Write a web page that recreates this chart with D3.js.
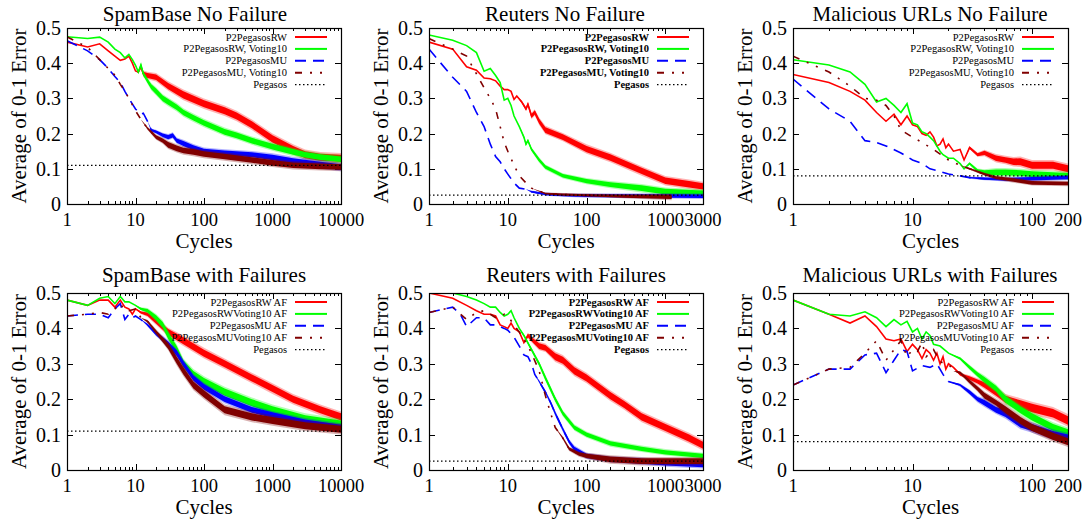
<!DOCTYPE html>
<html>
<head>
<meta charset="utf-8">
<script src="https://cdn.jsdelivr.net/npm/d3@7/dist/d3.min.js"></script>
<style>
    body { margin: 0; background: #fff; }
    svg { display: block; }
    svg text { font-family: "Liberation Serif", "Times New Roman", serif; }
</style>
</head>
<body>
<svg width="1085" height="525"></svg>
<script>
// каждая точка: [цикл, ошибка, полуширина шумовой полосы]
const spamRW = [[1,.46,0],[2,.446,0],[3,.455,0],[4,.435,0],[5,.42,0],[6,.408,0],[7,.412,0],[8,.42,0],[9,.4,0],[10,.378,0],[11,.375,.003],[12,.39,.005],[13,.37,.006],[15,.365,.007],[20,.36,.008],[30,.335,.009],[50,.31,.01],[100,.285,.01],[200,.265,.01],[300,.25,.01],[500,.225,.01],[1000,.185,.01],[2000,.155,.01],[3000,.14,.01],[5000,.133,.01],[10000,.13,.01]];
const spamRWV = [[1,.475,0],[2,.47,0],[3,.474,0],[4,.46,0],[5,.44,0],[6,.43,0],[7,.415,0],[8,.425,0],[9,.41,0],[10,.394,0],[11,.375,.003],[12,.395,.004],[13,.37,.005],[15,.35,.006],[17,.333,.007],[20,.32,.008],[25,.3,.008],[30,.29,.008],[40,.275,.008],[50,.26,.008],[70,.245,.008],[100,.23,.008],[200,.205,.008],[300,.195,.008],[500,.18,.008],[1000,.163,.008],[2000,.148,.008],[3000,.14,.008],[5000,.133,.008],[10000,.127,.008]];
const spamMU = [[1,.464,0],[2,.435,0],[3,.41,0],[4,.385,0],[5,.362,0],[6,.345,0],[7,.32,0],[8,.3,0],[10,.27,0],[12,.255,0],[13,.258,0],[15,.235,0],[17,.21,.003],[20,.205,.004],[25,.195,.005],[30,.19,.006],[35,.195,.006],[40,.18,.006],[50,.172,.007],[70,.16,.007],[100,.15,.007],[200,.145,.007],[500,.14,.007],[1000,.132,.008],[2000,.122,.008],[5000,.112,.008],[10000,.105,.008]];
const spamMUV = [[1,.475,0],[2,.445,0],[3,.41,0],[4,.385,0],[5,.366,0],[6,.34,0],[7,.32,0],[8,.3,0],[10,.265,0],[12,.24,0],[15,.215,.003],[20,.19,.005],[25,.18,.006],[30,.168,.008],[40,.158,.008],[50,.152,.008],[70,.148,.008],[100,.142,.008],[200,.135,.008],[500,.125,.008],[1000,.117,.008],[2000,.11,.008],[5000,.107,.008],[10000,.105,.008]];

const reutRW = [[1,.46,0],[2,.44,0],[3,.39,0],[4,.38,0],[5,.358,0],[6,.356,0],[7,.35,0],[8,.335,0],[9,.325,0],[10,.325,0],[11,.32,0],[12,.297,0],[13,.307,0],[15,.29,.003],[17,.27,.004],[18,.283,.005],[20,.25,.006],[22,.26,.006],[25,.235,.007],[30,.21,.008],[50,.19,.008],[100,.156,.009],[200,.132,.009],[500,.094,.009],[1000,.066,.009],[2000,.056,.009],[3000,.05,.009]];
const reutRWV = [[1,.48,0],[2,.465,0],[3,.45,0],[4,.43,0],[5,.377,0],[6,.385,0],[7,.365,0],[8,.345,0],[9,.295,0],[10,.3,0],[11,.28,0],[12,.25,0],[14,.22,0],[16,.19,.003],[17,.17,.003],[18,.18,.003],[20,.155,.004],[25,.125,.005],[30,.105,.005],[50,.08,.005],[100,.065,.006],[200,.055,.007],[500,.045,.008],[1000,.035,.008],[3000,.03,.008]];
const reutMU = [[1,.44,0],[2,.36,0],[3,.32,0],[4,.26,0],[5,.22,0],[6,.17,0],[7,.135,0],[8,.12,0],[9,.1,0],[10,.085,0],[12,.06,0],[14,.045,0],[17,.042,0],[20,.035,.002],[30,.028,.003],[50,.025,.003],[100,.024,.004],[1000,.023,.005],[3000,.022,.005]];
const reutMUV = [[1,.47,0],[2,.44,0],[3,.42,0],[4,.37,0],[5,.33,0],[6,.3,0],[7,.27,0],[8,.22,0],[9,.175,0],[10,.15,0],[12,.11,0],[14,.08,0],[17,.06,0],[20,.045,0],[30,.03,.002],[50,.027,.003],[100,.025,.003],[300,.022,.004],[1200,.02,.006]];

const urlRW = [[1,.368,0],[2,.345,0],[3,.32,0],[4,.295,0],[5,.26,0],[6,.235,0],[7,.255,0],[8,.225,0],[9,.25,0],[10,.225,0],[11,.22,0],[12,.2,0],[13,.195,0],[14,.205,0],[15,.19,0],[16,.165,0],[17,.17,0],[18,.185,0],[19,.16,0],[20,.17,0],[22,.15,0],[25,.155,0],[27,.125,0],[30,.16,.003],[35,.14,.004],[40,.145,.006],[50,.13,.008],[60,.125,.008],[70,.12,.009],[80,.12,.01],[100,.11,.01],[150,.11,.01],[200,.1,.01]];
const urlRWV = [[1,.41,0],[2,.395,0],[3,.375,0],[4,.34,0],[5,.29,0],[6,.3,0],[7,.28,0],[8,.26,0],[9,.285,0],[10,.23,0],[11,.225,0],[12,.205,0],[13,.2,0],[14,.19,0],[15,.18,0],[17,.15,0],[18,.14,0],[20,.13,0],[22,.13,0],[25,.115,0],[27,.1,0],[30,.115,.003],[35,.095,.004],[40,.09,.006],[50,.09,.008],[60,.09,.008],[80,.088,.008],[100,.085,.008],[200,.08,.008]];
const urlMU = [[1,.355,0],[2,.27,0],[3,.235,0],[4,.18,0],[5,.175,0],[6,.165,0],[8,.145,0],[10,.125,0],[12,.115,0],[14,.1,0],[16,.095,0],[20,.085,0],[25,.08,0],[30,.075,.002],[40,.072,.003],[60,.07,.004],[100,.072,.005],[200,.075,.005]];
const urlMUV = [[1,.42,0],[2,.375,0],[3,.335,0],[4,.3,0],[5,.295,0],[6,.28,0],[7,.25,0],[8,.21,0],[10,.19,0],[12,.175,0],[15,.155,0],[20,.125,0],[25,.11,0],[30,.1,.002],[40,.085,.003],[50,.075,.004],[70,.068,.005],[100,.06,.005],[200,.058,.005]];

const spamRWaf = [[1,.48,0],[2,.465,0],[3,.48,0],[4,.48,0],[5,.46,0],[6,.48,0],[7,.46,0],[8,.455,0],[9,.44,0],[10,.455,0],[12,.445,.003],[15,.44,.005],[20,.42,.007],[30,.39,.008],[50,.365,.01],[100,.33,.01],[200,.3,.01],[500,.26,.01],[1000,.23,.01],[2000,.2,.01],[5000,.17,.01],[10000,.15,.01]];
const spamRWVaf = [[1,.48,0],[2,.465,0],[3,.485,0],[4,.49,0],[5,.47,0],[6,.49,0],[7,.475,0],[8,.475,0],[10,.465,0],[12,.455,.003],[15,.45,.005],[20,.43,.007],[25,.41,.008],[30,.38,.01],[40,.34,.01],[50,.3,.01],[70,.27,.01],[100,.25,.01],[200,.22,.01],[500,.19,.01],[1000,.17,.01],[3000,.145,.01],[10000,.13,.01]];
const spamMUaf = [[1,.435,0],[2,.44,0],[3,.44,0],[4,.43,0],[5,.455,0],[6,.47,0],[7,.425,0],[8,.44,0],[9,.43,0],[10,.435,0],[12,.425,0],[15,.41,.003],[20,.385,.005],[25,.37,.006],[30,.355,.008],[40,.33,.008],[50,.3,.008],[70,.26,.008],[100,.235,.008],[200,.2,.008],[500,.17,.008],[1000,.155,.008],[3000,.135,.008],[10000,.12,.008]];
const spamMUVaf = [[1,.435,0],[2,.44,0],[3,.445,0],[4,.44,0],[5,.455,0],[6,.47,0],[7,.45,0],[8,.45,0],[10,.455,0],[12,.43,0],[15,.42,.003],[20,.39,.005],[30,.35,.008],[40,.31,.01],[50,.28,.01],[70,.24,.01],[100,.215,.01],[200,.17,.01],[500,.15,.01],[1000,.14,.01],[3000,.125,.01],[10000,.115,.01]];

const reutRWaf = [[1,.5,0],[2,.485,0],[3,.465,0],[4,.45,0],[5,.44,0],[6,.44,0],[7,.435,0],[8,.41,0],[9,.405,0],[10,.4,0],[11,.415,0],[12,.4,0],[14,.39,0],[16,.36,.003],[18,.38,.005],[20,.37,.006],[25,.35,.008],[30,.345,.008],[40,.32,.01],[50,.31,.01],[70,.28,.01],[100,.26,.01],[200,.21,.01],[300,.185,.01],[500,.15,.01],[1000,.12,.01],[2000,.09,.01],[3000,.07,.01]];
const reutRWVaf = [[1,.5,0],[2,.5,0],[3,.49,0],[4,.48,0],[5,.47,0],[6,.46,0],[7,.46,0],[8,.445,0],[9,.435,0],[10,.44,0],[11,.45,0],[12,.43,0],[14,.4,0],[16,.38,.003],[20,.34,.004],[25,.3,.005],[30,.26,.006],[40,.2,.006],[50,.16,.006],[70,.12,.006],[100,.1,.006],[200,.075,.006],[500,.06,.006],[1000,.05,.006],[3000,.04,.006]];
const reutMUaf = [[1,.445,0],[2,.46,0],[2.5,.44,0],[3,.405,0],[4,.43,0],[5,.43,0],[6,.41,0],[7,.41,0],[8,.405,0],[9,.4,0],[10,.395,0],[12,.375,0],[14,.35,0],[16,.325,0],[18,.32,0],[20,.3,0],[22,.27,0],[25,.25,.003],[30,.22,.004],[35,.19,.004],[40,.16,.005],[50,.115,.005],[60,.08,.005],[70,.06,.006],[100,.04,.006],[200,.03,.006],[500,.025,.007],[1000,.02,.007],[3000,.015,.007]];
const reutMUVaf = [[1,.445,0],[2,.46,0],[3,.425,0],[4,.445,0],[5,.45,0],[6,.44,0],[7,.43,0],[8,.43,0],[9,.44,0],[10,.435,0],[12,.41,0],[15,.38,0],[18,.35,0],[20,.33,0],[25,.28,0],[30,.21,0],[35,.16,0],[40,.12,0],[50,.09,.003],[60,.06,.004],[80,.045,.005],[100,.04,.006],[200,.03,.008],[500,.025,.008],[1000,.025,.008],[3000,.025,.008]];

const urlRWaf = [[1,.48,0],[2,.44,0],[3,.415,0],[4,.435,0],[5,.405,0],[6,.37,0],[7,.365,0],[8,.37,0],[9,.335,0],[10,.355,0],[11,.34,0],[12,.315,0],[13,.34,0],[14,.33,0],[15,.31,0],[16,.33,0],[17,.3,0],[18,.32,0],[19,.285,0],[20,.3,0],[22,.29,0],[25,.27,.003],[30,.26,.005],[35,.25,.006],[40,.24,.008],[50,.22,.01],[60,.2,.01],[80,.185,.012],[100,.175,.012],[150,.16,.012],[200,.14,.012]];
const urlRWVaf = [[1,.48,0],[2,.44,0],[3,.435,0],[4,.447,0],[5,.43,0],[6,.405,0],[7,.425,0],[8,.41,0],[9,.42,0],[10,.39,0],[11,.4,0],[12,.37,0],[13,.39,0],[14,.38,0],[15,.355,0],[17,.35,0],[20,.33,0],[25,.315,.003],[30,.29,.005],[35,.27,.006],[40,.255,.008],[50,.23,.008],[60,.2,.01],[80,.17,.01],[100,.15,.01],[150,.12,.01],[200,.105,.01]];
const urlMUaf = [[1,.24,0],[2,.285,0],[3,.285,0],[4,.325,0],[5,.33,0],[6,.275,0],[7,.31,0],[8,.34,0],[9,.335,0],[10,.28,0],[12,.295,0],[14,.29,0],[16,.3,0],[18,.27,0],[20,.25,0],[25,.24,.003],[30,.22,.005],[35,.2,.006],[40,.19,.008],[50,.17,.008],[60,.16,.01],[80,.13,.01],[100,.12,.01],[150,.1,.01],[200,.09,.01]];
const urlMUVaf = [[1,.24,0],[2,.285,0],[3,.29,0],[4,.33,0],[5,.365,0],[6,.31,0],[7,.34,0],[8,.365,0],[9,.32,0],[10,.34,0],[11,.335,0],[12,.36,0],[13,.32,0],[15,.34,0],[17,.305,0],[20,.3,0],[22,.28,0],[25,.275,.003],[30,.25,.005],[35,.23,.006],[40,.21,.008],[50,.19,.008],[60,.17,.01],[80,.14,.01],[100,.12,.01],[150,.095,.01],[200,.08,.01]];

// уровень Pegasos для каждого набора данных
const pegasosSpam = 0.11;
const pegasosReuters = 0.025;
const pegasosUrl = 0.08;

// подписи
const titles = ['SpamBase No Failure', 'Reuters No Failure', 'Malicious URLs No Failure',
    'SpamBase with Failures', 'Reuters with Failures', 'Malicious URLs with Failures'];
const legendNoFail = ['P2PegasosRW', 'P2PegasosRW, Voting10', 'P2PegasosMU', 'P2PegasosMU, Voting10', 'Pegasos'];
const legendFail = ['P2PegasosRW AF', 'P2PegasosRWVoting10 AF', 'P2PegasosMU AF', 'P2PegasosMUVoting10 AF', 'Pegasos'];
const xTicksSpam = [1, 10, 100, 1000, 10000];
const xTicksReuters = [1, 10, 100, 1000, 3000];
const xTicksUrl = [1, 10, 100, 200];
const yTicks = [0, 0.1, 0.2, 0.3, 0.4, 0.5];

const panels = [
    {title: titles[0], series: [spamRW, spamRWV, spamMU, spamMUV], pegasos: pegasosSpam, xMax: 10000, xTicks: xTicksSpam, legend: legendNoFail},
    {title: titles[1], series: [reutRW, reutRWV, reutMU, reutMUV], pegasos: pegasosReuters, xMax: 3000, xTicks: xTicksReuters, legend: legendNoFail},
    {title: titles[2], series: [urlRW, urlRWV, urlMU, urlMUV], pegasos: pegasosUrl, xMax: 200, xTicks: xTicksUrl, legend: legendNoFail},
    {title: titles[3], series: [spamRWaf, spamRWVaf, spamMUaf, spamMUVaf], pegasos: pegasosSpam, xMax: 10000, xTicks: xTicksSpam, legend: legendFail},
    {title: titles[4], series: [reutRWaf, reutRWVaf, reutMUaf, reutMUVaf], pegasos: pegasosReuters, xMax: 3000, xTicks: xTicksReuters, legend: legendFail},
    {title: titles[5], series: [urlRWaf, urlRWVaf, urlMUaf, urlMUVaf], pegasos: pegasosUrl, xMax: 200, xTicks: xTicksUrl, legend: legendFail}
];

// расположение и стили
const colLeft = [67, 429, 793];
const colRight = [341, 703, 1068];
const rowTop = [28, 293];
const rowBottom = [204, 470];
const titleY = [21, 282];
const titleX = [[195, 565, 930], [204, 576, 930]];
const boldLegend = [false, true, false, false, true, false];
const serif = '"Liberation Serif", "Times New Roman", serif';
const styles = [
    {color: '#ff0000', dash: null},
    {color: '#00ff00', dash: null},
    {color: '#0000ff', dash: '11,7'},
    {color: '#800000', dash: '7,8,2,8,2,8'},
    {color: '#000000', dash: '1.5,2.5'}
];

const svg = d3.select('svg');

panels.forEach((p, i) => {
    const col = i % 3, row = Math.floor(i / 3);
    const left = colLeft[col], right = colRight[col];
    const top = rowTop[row], bottom = rowBottom[row];

    const x = d3.scaleLog().domain([1, p.xMax]).range([left, right]);
    const y = d3.scaleLinear().domain([0, 0.5]).range([bottom, top]);

    const g = svg.append('g').attr('font-family', serif);
    const clipId = 'clip' + i;
    g.append('clipPath').attr('id', clipId)
        .append('rect').attr('x', left).attr('y', top)
        .attr('width', right - left).attr('height', bottom - top);

    // заголовок
    g.append('text')
        .attr('x', titleX[row][col]).attr('y', titleY[row])
        .attr('text-anchor', 'middle')
        .style('font-size', '21px')
        .text(p.title);

    // деления: основные и логарифмические дополнительные, с отражением
    const minor = [];
    for (let dec = 1; dec < p.xMax; dec *= 10) {
        for (let k = 2; k <= 9; k++) {
            if (dec * k < p.xMax) minor.push(dec * k);
        }
    }
    const ticks = g.append('g').attr('stroke', '#000').attr('stroke-width', 1);
    p.xTicks.forEach(t => {
        const xx = Math.round(x(t)) + 0.5;
        ticks.append('line').attr('x1', xx).attr('x2', xx).attr('y1', bottom).attr('y2', bottom - 6);
        ticks.append('line').attr('x1', xx).attr('x2', xx).attr('y1', top).attr('y2', top + 6);
    });
    minor.forEach(t => {
        const xx = Math.round(x(t)) + 0.5;
        ticks.append('line').attr('x1', xx).attr('x2', xx).attr('y1', bottom).attr('y2', bottom - 3);
        ticks.append('line').attr('x1', xx).attr('x2', xx).attr('y1', top).attr('y2', top + 3);
    });
    yTicks.forEach(t => {
        const yy = Math.round(y(t)) + 0.5;
        ticks.append('line').attr('x1', left).attr('x2', left + 6).attr('y1', yy).attr('y2', yy);
        ticks.append('line').attr('x1', right).attr('x2', right - 6).attr('y1', yy).attr('y2', yy);
    });

    // подписи делений
    g.selectAll('.xt').data(p.xTicks).enter().append('text')
        .attr('x', d => x(d)).attr('y', bottom + 22)
        .attr('text-anchor', 'middle')
        .style('font-size', '18.5px')
        .text(d => d);
    g.selectAll('.yt').data(yTicks).enter().append('text')
        .attr('x', left - 6).attr('y', d => y(d) + 7)
        .attr('text-anchor', 'end')
        .style('font-size', '20px')
        .text(d => d === 0 ? '0' : d.toFixed(1));

    // подписи осей
    g.append('text')
        .attr('x', (left + right) / 2).attr('y', bottom + 44)
        .attr('text-anchor', 'middle')
        .style('font-size', '21px')
        .text('Cycles');
    g.append('text')
        .attr('transform', `translate(${left - 41}, ${(top + bottom) / 2}) rotate(-90)`)
        .attr('text-anchor', 'middle')
        .style('font-size', '21px')
        .text('Average of 0-1 Error');

    // данные: шумовая полоса (с мягким краем) и линия
    const plot = g.append('g').attr('clip-path', `url(#${clipId})`);
    const area = k => d3.area()
        .x(d => x(d[0]))
        .y0(d => y(d[1] - d[2] * k))
        .y1(d => y(d[1] + d[2] * k));
    const line = d3.line()
        .x(d => x(d[0]))
        .y(d => y(d[1]));

    p.series.forEach((s, j) => {
        plot.append('path')
            .attr('d', area(1.5)(s))
            .attr('fill', styles[j].color)
            .attr('fill-opacity', 0.3);
        plot.append('path')
            .attr('d', area(1)(s))
            .attr('fill', styles[j].color);
        plot.append('path')
            .attr('d', line(s))
            .attr('fill', 'none')
            .attr('stroke', styles[j].color)
            .attr('stroke-width', 1.6)
            .attr('stroke-dasharray', styles[j].dash);
    });

    plot.append('line')
        .attr('x1', left).attr('x2', right)
        .attr('y1', y(p.pegasos)).attr('y2', y(p.pegasos))
        .attr('stroke', '#000').attr('stroke-width', 1.2)
        .attr('stroke-dasharray', styles[4].dash);

    // легенда
    p.legend.forEach((name, j) => {
        const ly = top + 9 + j * 11.9;
        g.append('text')
            .attr('x', right - 54).attr('y', ly + 3.5)
            .attr('text-anchor', 'end')
            .style('font-size', '10.5px')
            .style('font-weight', boldLegend[i] ? 'bold' : 'normal')
            .text(name);
        g.append('line')
            .attr('x1', right - 46).attr('x2', right - 14)
            .attr('y1', ly).attr('y2', ly)
            .attr('stroke', styles[j].color)
            .attr('stroke-width', j === 4 ? 1.2 : 2)
            .attr('stroke-dasharray', styles[j].dash);
    });

    // рамка
    g.append('rect')
        .attr('x', left + 0.5).attr('y', top + 0.5)
        .attr('width', right - left).attr('height', bottom - top)
        .attr('fill', 'none').attr('stroke', '#000').attr('stroke-width', 1.2);
});
</script>
</body>
</html>
